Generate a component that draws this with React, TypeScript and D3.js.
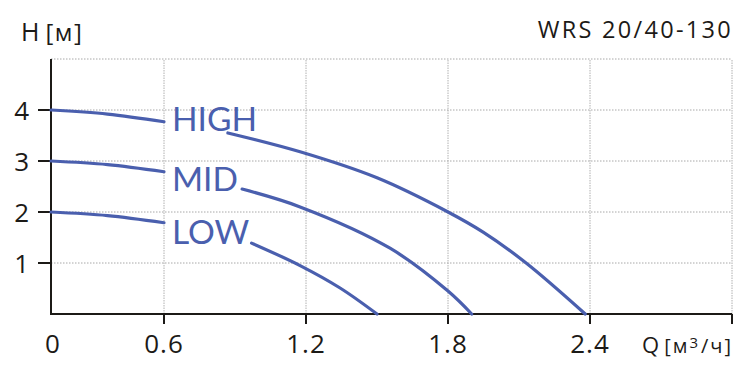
import * as d3 from 'd3';

const W = 751;
const H = 374;

// axis ticks
const qTicks = [0, 0.6, 1.2, 1.8, 2.4];
const qGrid = [0.6, 1.2, 1.8, 2.4, 3.0];
const hTicks = [1, 2, 3, 4];
const hGrid = [1, 2, 3, 4, 5];

// pump curves, split around the label
const highLeft: [number, number][] = [[0, 4], [0.3, 3.92], [0.6, 3.77]];
const highRight: [number, number][] = [[0.87, 3.55], [1.175, 3.18], [1.5, 2.67], [1.8, 2.0], [1.95, 1.6], [2.13, 1.0], [2.38, 0]];
const midLeft: [number, number][] = [[0, 3], [0.3, 2.93], [0.6, 2.79]];
const midRight: [number, number][] = [[0.93, 2.45], [1.175, 2.1], [1.555, 1.29], [1.8, 0.45], [1.9, 0]];
const lowLeft: [number, number][] = [[0, 2], [0.3, 1.93], [0.6, 1.79]];
const lowRight: [number, number][] = [[0.97, 1.39], [1.175, 0.95], [1.344, 0.51], [1.5, 0]];

const series = [
  { name: 'HIGH', left: highLeft, right: highRight, labelH: 3.59 },
  { name: 'MID', left: midLeft, right: midRight, labelH: 2.41 },
  { name: 'LOW', left: lowLeft, right: lowRight, labelH: 1.37 },
];

const blue = '#4a5fae';
const ink = '#1c1a17';
const font = '"Open Sans", sans-serif';

export default function App() {
  // first interval is drawn narrower than the rest
  const x = d3.scaleLinear().domain([0, 0.6, 3.0]).range([51, 164, 732]);
  const y = d3.scaleLinear().domain([0, 5]).range([314, 59]);

  const line = d3.line<[number, number]>()
    .x((d) => x(d[0]))
    .y((d) => y(d[1]))
    .curve(d3.curveCatmullRom.alpha(0.5));

  return (
    <svg width={W} height={H} style={{ position: 'absolute', left: 0, top: 0, background: '#fff' }}>
      {/* grid */}
      {hGrid.map((h) => (
        <line key={'h' + h} x1={x(0)} x2={x(3)} y1={y(h)} y2={y(h)}
          stroke="#a8a8a8" strokeWidth={1} strokeDasharray="1.5,1.5" />
      ))}
      {qGrid.map((q) => (
        <line key={'q' + q} x1={x(q)} x2={x(q)} y1={y(0)} y2={y(5)}
          stroke="#b0b0b0" strokeWidth={1} strokeDasharray="1.5,1" />
      ))}

      {/* axes */}
      <line x1={x(0)} x2={x(0)} y1={y(5)} y2={y(0) + 1} stroke={ink} strokeWidth={2} />
      <line x1={x(0)} x2={x(3)} y1={y(0)} y2={y(0)} stroke={ink} strokeWidth={2} />
      {hTicks.map((h) => (
        <g key={'ht' + h}>
          <line x1={x(0) - 13} x2={x(0)} y1={y(h)} y2={y(h)} stroke={ink} strokeWidth={2} />
          <text x={x(0) - 22} y={y(h) + 9.5} textAnchor="end" fontFamily={font} fontSize={26} fill={ink}>{h}</text>
        </g>
      ))}
      {[...qTicks.slice(1), 3.0].map((q) => (
        <line key={'qt' + q} x1={x(q)} x2={x(q)} y1={y(0)} y2={y(0) + 10} stroke={ink} strokeWidth={2} />
      ))}
      {qTicks.map((q) => (
        <text key={'ql' + q} x={x(q) + (q === 0 ? 2 : 0)} y={353} textAnchor="middle" fontFamily={font}
          fontSize={26} letterSpacing={1} fill={ink}>
          {q === 0 ? '0' : q.toFixed(1)}
        </text>
      ))}

      {/* axis titles */}
      <text x={21} y={41} fontFamily={font} fontSize={25} fill={ink}>
        H<tspan dx={6} fontSize={24} letterSpacing={1.5}>[м]</tspan>
      </text>
      <text x={733} y={353} textAnchor="end" fontFamily={font} fontSize={22} fill={ink}>
        Q<tspan dx={5} fontSize={20} letterSpacing={2}>[м</tspan>
        <tspan fontSize={15} dy={-5} letterSpacing={3}>3</tspan>
        <tspan fontSize={20} dy={5} letterSpacing={2}>/ч]</tspan>
      </text>
      <text x={733} y={38} textAnchor="end" fontFamily={font} fontSize={23.5} letterSpacing={2.3} fill={ink}>WRS 20/40-130</text>

      {/* curves */}
      {series.map((s) => (
        <g key={s.name}>
          <path d={line(s.left) ?? ''} fill="none" stroke={blue} strokeWidth={3.2} strokeLinecap="round" />
          <path d={line(s.right) ?? ''} fill="none" stroke={blue} strokeWidth={3.2} strokeLinecap="round" />
          <text x={x(0.6) + 8} y={y(s.labelH)} fontFamily="Lato, sans-serif" fontSize={33.5} fill={blue}>{s.name}</text>
        </g>
      ))}
    </svg>
  );
}
